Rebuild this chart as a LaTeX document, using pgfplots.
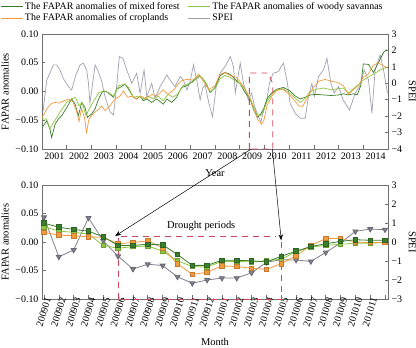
\documentclass[border=0pt]{standalone}
\usepackage{fontspec}
\setmainfont{Liberation Serif}
\usepackage{pgfplots}
\pgfplotsset{compat=1.18}
\usetikzlibrary{arrows.meta}

\definecolor{cmf}{HTML}{3A7D2C}
\definecolor{cws}{HTML}{8DC63F}
\definecolor{ccr}{HTML}{F39A3C}
\definecolor{csp}{HTML}{A0A0B2}
\definecolor{cdr}{HTML}{D2455A}
\definecolor{cfr}{HTML}{707070}

\tikzset{drdash/.style={cdr, line width=0.8pt, dash pattern=on 6bp off 5bp}}
\pgfplotsset{
  base/.style={
    scale only axis, width=346bp,
    axis line style={cfr, line width=0.9pt},
    tick style={cfr, line width=0.6pt},
    tick align=inside,
    major tick length=3.5bp, minor tick length=3.5bp,
    tick label style={font=\fontsize{10}{11}\selectfont, text=black},
    label style={font=\fontsize{10.5}{12}\selectfont},
    clip=false,
  },
}

\begin{document}
\begin{tikzpicture}
\useasboundingbox (0,0) rectangle (416bp,348bp);

% ---------------- top chart: SPEI (right) ----------------
\begin{axis}[base, at={(42bp,199bp)}, anchor=south west, height=115bp,
  xmin=2001, xmax=2015, axis x line=none, axis y line*=right,
  ymin=-4, ymax=3, ytick={-4,-3,-2,-1,0,1,2,3},
  yticklabels={−4,−3,−2,−1,0,1,2,3},
  ylabel={SPEI}, ylabel style={at={(axis description cs:1.07,0.5)}, anchor=center, rotate=180},
]
\addplot[csp, line width=0.7pt] coordinates {
(2001.0,-1.5)(2001.05,-1.63)(2001.19,0.2)(2001.32,0.61)(2001.46,1.12)(2001.59,1.12)(2001.73,0.81)(2001.86,0.30)
(2002.07,-0.2)(2002.2,-0.41)(2002.37,0.5)(2002.54,1.12)(2002.67,1.22)(2002.81,0.81)(2002.88,0)(2002.94,-1.22)
(2003.15,1.12)(2003.28,0.71)(2003.42,0.1)(2003.55,-0.81)(2003.75,-1.73)(2003.89,-1.93)(2004.0,-0.5)
(2004.13,1.63)(2004.27,1.52)(2004.43,0.81)(2004.63,0)(2004.70,0.2)(2004.83,0.61)(2004.97,-0.61)
(2005.13,0.81)(2005.24,-0.81)(2005.44,0)(2005.57,-0.91)(2005.78,-0.2)(2005.9,0.1)(2006.05,0.51)(2006.18,0.2)
(2006.38,-0.2)(2006.59,0.41)(2006.72,0.2)(2006.86,-0.41)(2006.99,0.1)(2007.13,1.12)(2007.26,0.2)(2007.40,-1.0)
(2007.5,-0.3)(2007.6,-0.1)(2007.75,-1.2)(2007.9,-2.03)(2008.05,-0.2)(2008.2,0.61)(2008.4,1.0)(2008.55,1.42)
(2008.62,1.63)(2008.75,1.0)(2008.82,-0.6)(2009.02,1.22)(2009.15,0)(2009.35,-1.02)(2009.48,-0.6)(2009.6,-1.4)
(2009.76,-2.03)(2009.86,-2.34)(2009.96,-1.73)(2010.1,-1.02)(2010.2,0)(2010.35,0.61)(2010.57,0.71)(2010.71,1.12)
(2010.77,1.22)(2010.93,0)(2011.04,-1.22)(2011.25,-1.83)(2011.45,-2.13)(2011.65,-2.13)(2011.78,-0.81)(2011.92,0)
(2012.02,-0.81)(2012.19,0.41)(2012.39,0.81)(2012.53,1.52)(2012.69,0)(2012.82,-0.61)(2013.0,-0.2)(2013.19,-1.02)
(2013.44,-1.63)(2013.67,-0.61)(2013.85,-0.2)(2014.04,0.81)(2014.21,0.2)(2014.35,-1.83)(2014.48,0.81)(2014.68,1.73)
(2014.82,0.81)(2014.98,-0.61)};
\end{axis}

% ---------------- top chart: FAPAR (left) ----------------
\begin{axis}[base, at={(42bp,199bp)}, anchor=south west, height=115bp,
  xmin=2001, xmax=2015, ymin=-0.1, ymax=0.1,
  xtick={2001,2002,...,2015}, x tick label as interval,
  xticklabels={2001,2002,2003,2004,2005,2006,2007,2008,2009,2010,2011,2012,2013,2014,{}},
  ytick={-0.1,-0.05,0,0.05,0.1}, yticklabels={−0.10,−0.05,0.00,0.05,0.10},
  xtick pos=bottom, ytick pos=left,
  xlabel={Year}, xlabel style={at={(axis description cs:0.5,-0.209)}, anchor=center},
  ylabel={FAPAR anomalies}, ylabel style={at={(axis description cs:-0.107,0.5)}, anchor=center},
  legend columns=2, legend cell align=left,
  legend style={at={(axis description cs:-0.1214,1.2957)}, anchor=north west, draw=none, fill=none,
    font=\fontsize{10}{11}\selectfont, inner sep=0pt, row sep=-1bp,
    /tikz/every even column/.append style={column sep=6bp}},
  legend image code/.code={\draw[#1, line width=0.8pt] (0bp,0bp) -- (22bp,0bp);},
]
\addplot[cmf, line width=0.7pt] coordinates {
(2001.0,-0.058)(2001.05,-0.060)(2001.19,-0.051)(2001.32,-0.065)(2001.39,-0.080)(2001.53,-0.057)(2001.66,-0.048)(2001.80,-0.042)
(2002.0,-0.028)(2002.2,-0.013)(2002.34,-0.022)(2002.47,-0.042)(2002.61,-0.019)(2002.74,-0.028)(2002.84,-0.045)
(2003.01,-0.039)(2003.15,-0.030)(2003.3,-0.012)(2003.45,0.000)(2003.6,0.000)(2003.75,-0.005)(2003.89,-0.010)
(2004.02,0.004)(2004.2,0.008)(2004.36,0.013)(2004.50,0.004)(2004.70,-0.010)(2004.83,-0.013)(2004.97,-0.008)
(2005.10,-0.016)(2005.24,-0.013)(2005.44,-0.019)(2005.64,-0.013)(2005.91,-0.022)(2006.05,-0.013)(2006.25,-0.019)
(2006.45,-0.010)(2006.65,0.007)(2006.86,0.010)(2007.13,0.019)(2007.40,0.027)(2007.53,0.021)(2007.67,0.012)
(2007.8,-0.002)(2008.0,0.007)(2008.2,0.027)(2008.41,0.033)(2008.61,0.030)(2008.82,0.021)(2009.02,0.013)
(2009.22,-0.002)(2009.42,-0.013)(2009.56,-0.031)(2009.72,-0.045)(2009.85,-0.039)(2009.96,-0.031)(2010.1,-0.013)
(2010.3,-0.002)(2010.5,0.004)(2010.77,0.007)(2011.04,0.001)(2011.25,-0.008)(2011.45,-0.013)(2011.65,-0.010)
(2011.85,-0.006)(2012.1,-0.005)(2012.4,-0.006)(2012.7,-0.007)(2013.0,-0.006)(2013.2,-0.004)(2013.4,-0.006)
(2013.6,-0.004)(2013.75,-0.006)(2013.9,0.010)(2014.0,0.048)(2014.21,0.047)(2014.41,0.033)(2014.61,0.050)
(2014.82,0.068)(2014.95,0.073)};
\addlegendentry{The FAPAR anomalies of mixed forest}
\addplot[cws, line width=0.7pt] coordinates {
(2001.0,-0.045)(2001.05,-0.048)(2001.19,-0.048)(2001.32,-0.065)(2001.45,-0.055)(2001.6,-0.045)(2001.8,-0.031)
(2002.0,-0.019)(2002.2,-0.013)(2002.35,-0.010)(2002.5,-0.025)(2002.62,-0.019)(2002.78,-0.042)(2002.9,-0.031)
(2003.1,-0.016)(2003.3,-0.002)(2003.5,0.001)(2003.7,-0.002)(2003.9,-0.008)(2004.1,0.010)(2004.35,0.013)
(2004.5,0.007)(2004.7,-0.010)(2004.9,-0.008)(2005.1,-0.013)(2005.3,-0.008)(2005.5,-0.013)(2005.7,-0.008)
(2005.9,-0.016)(2006.1,-0.005)(2006.3,-0.010)(2006.5,-0.004)(2006.7,0.010)(2006.9,0.013)(2007.1,0.016)
(2007.35,0.028)(2007.55,0.020)(2007.8,0.000)(2008.0,0.005)(2008.2,0.022)(2008.4,0.028)(2008.6,0.025)
(2008.8,0.019)(2009.0,0.014)(2009.2,0.004)(2009.4,-0.010)(2009.55,-0.025)(2009.7,-0.040)(2009.85,-0.042)
(2009.95,-0.035)(2010.1,-0.018)(2010.3,-0.005)(2010.5,0.003)(2010.75,0.005)(2011.0,-0.002)(2011.25,-0.012)
(2011.45,-0.019)(2011.65,-0.012)(2011.85,0.000)(2012.1,0.004)(2012.4,0.006)(2012.7,0.003)(2013.0,0.005)
(2013.2,0.006)(2013.4,-0.003)(2013.6,0.005)(2013.8,0.012)(2014.0,0.020)(2014.2,0.025)(2014.4,0.030)
(2014.6,0.035)(2014.8,0.040)(2014.95,0.042)};
\addlegendentry{The FAPAR anomalies of woody savannas}
\addplot[ccr, line width=0.7pt] coordinates {
(2001.0,-0.044)(2001.05,-0.042)(2001.2,-0.030)(2001.35,-0.022)(2001.5,-0.019)(2001.7,-0.020)(2001.9,-0.016)
(2002.1,-0.013)(2002.25,-0.018)(2002.4,-0.034)(2002.5,-0.052)(2002.6,-0.030)(2002.72,-0.045)(2002.8,-0.071)
(2002.9,-0.048)(2003.1,-0.037)(2003.3,-0.031)(2003.4,-0.025)(2003.55,-0.033)(2003.75,-0.025)(2003.95,-0.013)
(2004.15,-0.008)(2004.3,0.001)(2004.45,-0.010)(2004.65,-0.008)(2004.8,-0.013)(2005.0,-0.008)(2005.2,-0.013)
(2005.45,-0.005)(2005.65,-0.008)(2005.9,0.003)(2006.1,-0.005)(2006.35,0.004)(2006.6,0.018)(2006.85,0.021)
(2007.1,0.020)(2007.35,0.030)(2007.55,0.016)(2007.75,0.003)(2008.0,0.010)(2008.2,0.030)(2008.4,0.033)
(2008.6,0.028)(2008.85,0.025)(2009.05,0.015)(2009.25,0.002)(2009.45,-0.015)(2009.6,-0.035)(2009.75,-0.050)
(2009.88,-0.057)(2009.98,-0.050)(2010.1,-0.025)(2010.3,-0.008)(2010.5,0.002)(2010.75,0.004)(2011.0,-0.005)
(2011.2,-0.015)(2011.4,-0.025)(2011.55,-0.026)(2011.75,-0.010)(2011.95,0.005)(2012.2,0.018)(2012.45,0.021)
(2012.7,0.018)(2012.95,0.016)(2013.2,0.010)(2013.4,-0.005)(2013.6,0.003)(2013.8,0.010)(2014.0,0.025)
(2014.2,0.030)(2014.4,0.045)(2014.6,0.050)(2014.8,0.045)(2014.95,0.042)};
\addlegendentry{The FAPAR anomalies of croplands}
\addlegendimage{csp, line width=0.8pt}
\addlegendentry{SPEI}
\draw[drdash] (axis cs:2009.39,-0.1) -- (axis cs:2009.39,0.032) -- (axis cs:2010.16,0.032) -- (axis cs:2010.34,0.013) -- (axis cs:2010.34,-0.1) -- cycle;
\coordinate (a1) at (axis cs:2009.47,-0.1);
\coordinate (a2) at (axis cs:2010.32,-0.1);
\end{axis}

% ---------------- bottom chart: SPEI (right) ----------------
\begin{axis}[base, at={(42bp,49bp)}, anchor=south west, height=114bp,
  xmin=-0.135, xmax=23.2, axis x line=none, axis y line*=right,
  ymin=-3, ymax=3, ytick={-3,-2,-1,0,1,2,3},
  yticklabels={−3,−2,−1,0,1,2,3},
  ylabel={SPEI}, ylabel style={at={(axis description cs:1.07,0.5)}, anchor=center, rotate=180},
]
\addplot[csp!80!black, line width=0.8pt, mark=triangle*, mark size=2.9bp,
  mark options={rotate=180, fill=csp!80!black, draw=csp!65!black}] coordinates {
(0,1.3)(1,-0.78)(2,-0.42)(3,1.27)(4,0.06)(5,-0.75)(6,-1.42)(7,-1.17)(8,-1.24)(9,-1.83)(10,-2.17)(11,-2.0)
(12,-1.9)(13,-1.9)(14,-1.62)(15,-1.07)(16,-0.93)(17,-0.95)(18,-1.02)(19,-0.55)(20,-0.05)(21,0.56)(22,0.68)(23,0.65)};
\end{axis}

% ---------------- bottom chart: FAPAR (left) ----------------
\begin{axis}[base, at={(42bp,49bp)}, anchor=south west, height=114bp,
  xmin=-0.135, xmax=23.2, ymin=-0.1, ymax=0.1,
  xtick={0,...,23},
  xticklabels={200901,200902,200903,200904,200905,200906,200907,200908,200909,200910,200911,200912,201001,201002,201003,201004,201005,201006,201007,201008,201009,201010,201011,{}},
  xticklabel style={rotate=73, anchor=east, inner sep=0.5bp, xshift=3bp, yshift=-3.5bp},
  ytick={-0.1,-0.05,0,0.05,0.1}, yticklabels={−0.10,−0.05,0.00,0.05,0.10},
  xtick pos=bottom, ytick pos=left,
  xlabel={Month}, xlabel style={at={(axis description cs:0.5,-0.377)}, anchor=center},
  ylabel={FAPAR anomalies}, ylabel style={at={(axis description cs:-0.107,0.5)}, anchor=center},
]
\addplot[cws, line width=0.8pt, mark=square*, mark size=2.3bp, mark options={fill=cws, draw=cws!80!black}] coordinates {
(0,0.027)(1,0.019)(2,0.017)(3,0.014)(4,-0.006)(5,-0.011)(6,-0.008)(7,-0.007)(8,-0.016)(9,-0.033)(10,-0.043)(11,-0.044)
(12,-0.034)(13,-0.034)(14,-0.035)(15,-0.033)(16,-0.030)(17,-0.017)(18,-0.009)(19,-0.006)(20,-0.004)(21,-0.002)(22,-0.002)(23,-0.001)};
\addplot[ccr, line width=0.8pt, mark=square*, mark size=2.3bp, mark options={fill=ccr, draw=ccr!80!black}] coordinates {
(0,0.017)(1,0.012)(2,0.011)(3,0.009)(4,0.008)(5,-0.003)(6,-0.001)(7,0.002)(8,-0.010)(9,-0.038)(10,-0.057)(11,-0.053)
(12,-0.042)(13,-0.043)(14,-0.046)(15,-0.048)(16,-0.038)(17,-0.024)(18,-0.006)(19,0.006)(20,0.006)(21,0.000)(22,-0.001)(23,-0.001)};
\addplot[cmf, line width=0.8pt, mark=square*, mark size=2.3bp, mark options={fill=cmf, draw=cmf!80!black}] coordinates {
(0,0.033)(1,0.026)(2,0.022)(3,0.019)(4,0.009)(5,-0.006)(6,-0.006)(7,-0.004)(8,-0.005)(9,-0.022)(10,-0.041)(11,-0.041)
(12,-0.032)(13,-0.032)(14,-0.033)(15,-0.035)(16,-0.025)(17,-0.016)(18,-0.008)(19,-0.003)(20,0.001)(21,0.004)(22,0.003)(23,0.003)};
\draw[drdash] (axis cs:5,-0.1) -- (axis cs:5,0.0105) -- (axis cs:15.6,0.0105);
\draw[drdash] (axis cs:16,0.0) -- (axis cs:16,-0.1) -- (axis cs:5,-0.1);
\node[font=\fontsize{10.5}{12}\selectfont] at (axis cs:10.6,0.028) {Drought periods};
\coordinate (b1) at (axis cs:4.8,0.0105);
\coordinate (b2) at (axis cs:16,0.003);
\end{axis}

\draw[-{Stealth[length=6bp,width=4.5bp]}, line width=0.5pt] (a1) -- (b1);
\draw[-{Stealth[length=6bp,width=4.5bp]}, line width=0.5pt] (a2) -- (b2);
\end{tikzpicture}
\end{document}
